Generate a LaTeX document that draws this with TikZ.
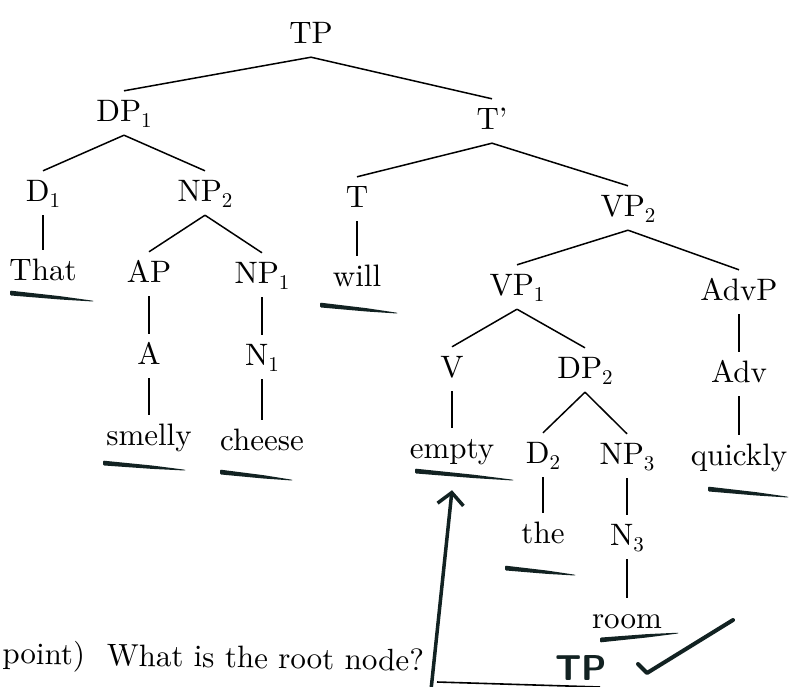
\documentclass[tikz,border=0pt]{standalone}
\usepackage{tikz}
\usetikzlibrary{arrows.meta,calc}
\normalfont
\DeclareFontShape{TU}{lmr}{m}{n}{<->\UnicodeFontFile{lmroman10-regular}{\UnicodeFontTeXLigatures}}{}
\definecolor{inkgreen}{RGB}{18,34,34}
\tikzstyle{cat} = [anchor=base, inner xsep=2pt, inner ysep=8pt, text height=22pt, text depth=6pt, font=\fontsize{31}{36}\selectfont]
\tikzstyle{branch} = [line width=1.5pt]
\tikzstyle{pen} = [draw=inkgreen, line width=3.5pt, line cap=round, line join=round]
\newcommand{\idx}[1]{\raisebox{-0.22em}{\fontsize{21}{24}\selectfont #1}}
\newcommand{\inkstroke}[4]{\fill[inkgreen, rounded corners=1pt] (#1,#2-2.4) -- ($(#1,#2-1.8)!.6!(#3,#4-1.6)$) -- (#3,#4-0.3) -- (#3,#4+0.5) -- ($(#1,#2+1.8)!.6!(#3,#4+1.6)$) -- (#1,#2+2.4) -- cycle;}

\begin{document}
\begin{tikzpicture}[x=1pt, y=-1pt]
\useasboundingbox[fill=white] (0,0) rectangle (794,686);
\node (tp) [cat] at (311,43) {TP};
\node (dp1) [cat] at (124,121) {DP\idx{1}};
\node (tbar) [cat] at (492,129) {T'};
\node (d1) [cat] at (43,201) {D\idx{1}};
\node (np2) [cat] at (205,201) {NP\idx{2}};
\node (t) [cat] at (357,207) {T};
\node (vp2) [cat] at (628,216) {VP\idx{2}};
\node (that) [cat] at (43,280) {That};
\node (ap) [cat] at (149,282) {AP};
\node (np1) [cat] at (262,283) {NP\idx{1}};
\node (will) [cat] at (357,286) {will};
\node (vp1) [cat] at (517,295) {VP\idx{1}};
\node (advp) [cat] at (739,300) {AdvP};
\node (a) [cat] at (149,364) {A};
\node (n1) [cat] at (262,365) {N\idx{1}};
\node (v) [cat] at (452,377) {V};
\node (dp2) [cat] at (585,378) {DP\idx{2}};
\node (adv) [cat] at (739,382) {Adv};
\node (smelly) [cat] at (149,445) {smelly};
\node (cheese) [cat] at (262,450) {cheese};
\node (empty) [cat] at (452,458) {empty};
\node (d2) [cat] at (543,463) {D\idx{2}};
\node (np3) [cat] at (627,464) {NP\idx{3}};
\node (quickly) [cat] at (739,465) {quickly};
\node (the) [cat] at (543,543) {the};
\node (n3) [cat] at (627,545) {N\idx{3}};
\node (room) [cat] at (627,628) {room};

\draw[branch] (tp.south) -- (dp1.north);
\draw[branch] (tp.south) -- (tbar.north);
\draw[branch] (dp1.south) -- (d1.north);
\draw[branch] (dp1.south) -- (np2.north);
\draw[branch] (tbar.south) -- (t.north);
\draw[branch] (tbar.south) -- (vp2.north);
\draw[branch] (d1.south) -- (that.north);
\draw[branch] (np2.south) -- (ap.north);
\draw[branch] (np2.south) -- (np1.north);
\draw[branch] (t.south) -- (will.north);
\draw[branch] (vp2.south) -- (vp1.north);
\draw[branch] (vp2.south) -- (advp.north);
\draw[branch] (ap.south) -- (a.north);
\draw[branch] (np1.south) -- (n1.north);
\draw[branch] (vp1.south) -- (v.north);
\draw[branch] (vp1.south) -- (dp2.north);
\draw[branch] (advp.south) -- (adv.north);
\draw[branch] (a.south) -- (smelly.north);
\draw[branch] (n1.south) -- (cheese.north);
\draw[branch] (v.south) -- (empty.north);
\draw[branch] (dp2.south) -- (d2.north);
\draw[branch] (dp2.south) -- (np3.north);
\draw[branch] (adv.south) -- (quickly.north);
\draw[branch] (d2.south) -- (the.north);
\draw[branch] (np3.south) -- (n3.north);
\draw[branch] (n3.south) -- (room.north);

\node (question) [anchor=base east, inner sep=0pt, rotate=-1, font=\fontsize{31}{36}\selectfont] at (424,671) {point)\hspace{0.7em}What is the root node?};
\draw[line width=1.6pt] (437,682) -- (600,687);
\node (answer) [anchor=base, inner sep=0pt, text=inkgreen, font=\fontsize{36}{40}\selectfont\sffamily\bfseries] at (581,680) {TP};
\draw[pen, line width=4pt] (638,664) -- (647,673) -- (733,620);

\coordinate (arrowfoot) at (431,690);
\draw[pen, -{Straight Barb[length=12pt, width=26pt]}] (arrowfoot) -- ([yshift=-18pt]empty.south);

\inkstroke{10}{293}{93}{301}
\inkstroke{320}{305}{397}{313}
\inkstroke{103}{463}{185}{470}
\inkstroke{220}{472}{292}{480}
\inkstroke{415}{471}{513}{480}
\inkstroke{505}{568}{575}{575}
\inkstroke{708}{489}{788}{497}
\inkstroke{600}{640}{678}{633}
\end{tikzpicture}
\end{document}
